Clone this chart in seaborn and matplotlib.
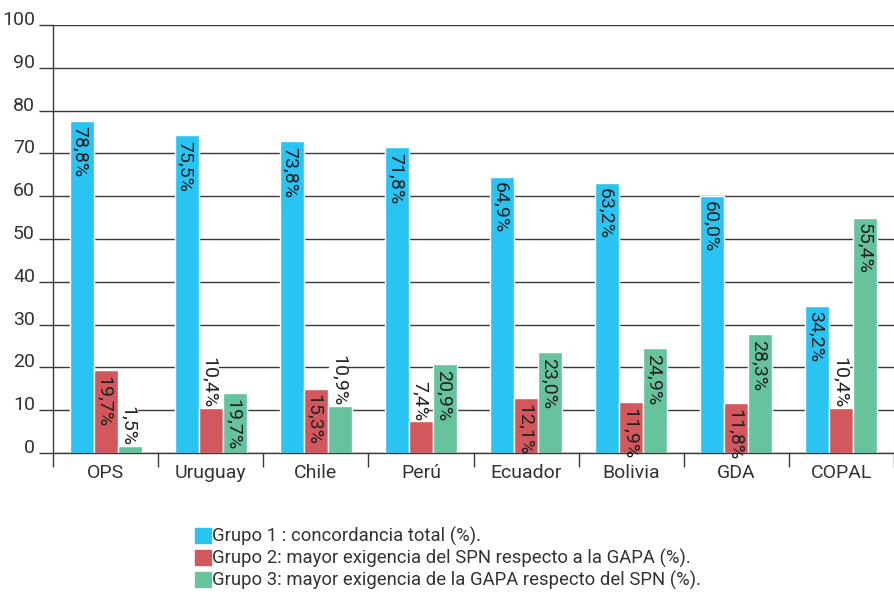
import numpy as np
import pandas as pd
import seaborn as sns
import matplotlib.pyplot as plt
from matplotlib.patches import Patch

cats = ["OPS", "Uruguay", "Chile", "Perú", "Ecuador", "Bolivia", "GDA", "COPAL"]
groups = [
    "Grupo 1 : concordancia total (%).",
    "Grupo 2: mayor exigencia del SPN respecto a la GAPA (%).",
    "Grupo 3: mayor exigencia de la GAPA respecto del SPN (%).",
]
colors = ["#2AC4F3", "#D3585D", "#66C39E"]

# bar heights as drawn
g1_bar = [77.6, 74.3, 72.8, 71.4, 64.6, 63.2, 60.1, 34.4]
g2_bar = [19.4, 10.5, 15.0, 7.4, 12.8, 11.9, 11.6, 10.4]
g3_bar = [1.6, 14.0, 10.9, 20.8, 23.6, 24.5, 27.8, 55.0]

# values printed on the bars
g1_txt = [78.8, 75.5, 73.8, 71.8, 64.9, 63.2, 60.0, 34.2]
g2_txt = [19.7, 10.4, 15.3, 7.4, 12.1, 11.9, 11.8, 10.4]
g3_txt = [1.5, 19.7, 10.9, 20.9, 23.0, 24.9, 28.3, 55.4]

df = pd.DataFrame({
    "cat": cats * 3,
    "val": g1_bar + g2_bar + g3_bar,
    "grupo": [groups[0]] * 8 + [groups[1]] * 8 + [groups[2]] * 8,
})

sns.set_style("white")
plt.rcParams["font.family"] = ["Roboto", "DejaVu Sans"]

fig = plt.figure(figsize=(8.94, 5.92), dpi=100)
ax = fig.add_axes([53 / 894, 1 - 453 / 592, 1 - 53 / 894, (453 - 25) / 592])

sns.barplot(data=df, x="cat", y="val", hue="grupo", hue_order=groups,
            palette=colors, width=0.686, saturation=1, legend=False, ax=ax)

ax.set_xlim(-0.5, 7.5)
ax.set_ylim(0, 100)
ax.set_yticks(range(0, 101, 10))
ax.yaxis.grid(True, color="#3a3a3a", lw=1)
ax.set_axisbelow(True)
ax.set_xlabel("")
ax.set_ylabel("")
for s in ["top", "right"]:
    ax.spines[s].set_visible(False)
for s in ["left", "bottom"]:
    ax.spines[s].set_color("#3a3a3a")
    ax.spines[s].set_linewidth(1)

ax.tick_params(axis="y", length=10, width=1, color="#3a3a3a",
               labelsize=14, labelcolor="#333333", pad=3, left=True)
for t in ax.get_yticklabels():
    t.set_va("baseline")
ax.set_xticks(np.arange(-0.5, 8, 1), minor=True)
ax.tick_params(axis="x", which="minor", length=10, width=1, color="#3a3a3a", bottom=True)
ax.tick_params(axis="x", which="major", length=0, labelsize=14, labelcolor="#333333", pad=8)

for cont, vals in zip(ax.containers, [g1_txt, g2_txt, g3_txt]):
    for rect, v in zip(cont, vals):
        h = rect.get_height()
        x = rect.get_x() + rect.get_width() / 2
        txt = f"{v:.1f}".replace(".", ",") + "%"
        if h < 11.5:
            ax.annotate(txt, (x, h), xytext=(-1, 0), textcoords="offset points",
                        rotation=-90, ha="center", va="bottom", fontsize=14,
                        color="#222222",
                        bbox=dict(fc="white", ec="none", pad=0.5))
        else:
            ax.annotate(txt, (x, h), xytext=(-1, -4), textcoords="offset points",
                        rotation=-90, ha="center", va="top", fontsize=14,
                        color="#222222")

handles = [Patch(color=c, label=g) for c, g in zip(colors, groups)]
fig.legend(handles=handles, loc="upper left", bbox_to_anchor=(195 / 894, 1 - 527 / 592),
           frameon=False, fontsize=13.3, labelcolor="#333333", handlelength=0.865,
           handleheight=0.865, handletextpad=0.05, labelspacing=0.15,
           borderpad=0, borderaxespad=0)

fig.savefig("out.png", dpi=100)
